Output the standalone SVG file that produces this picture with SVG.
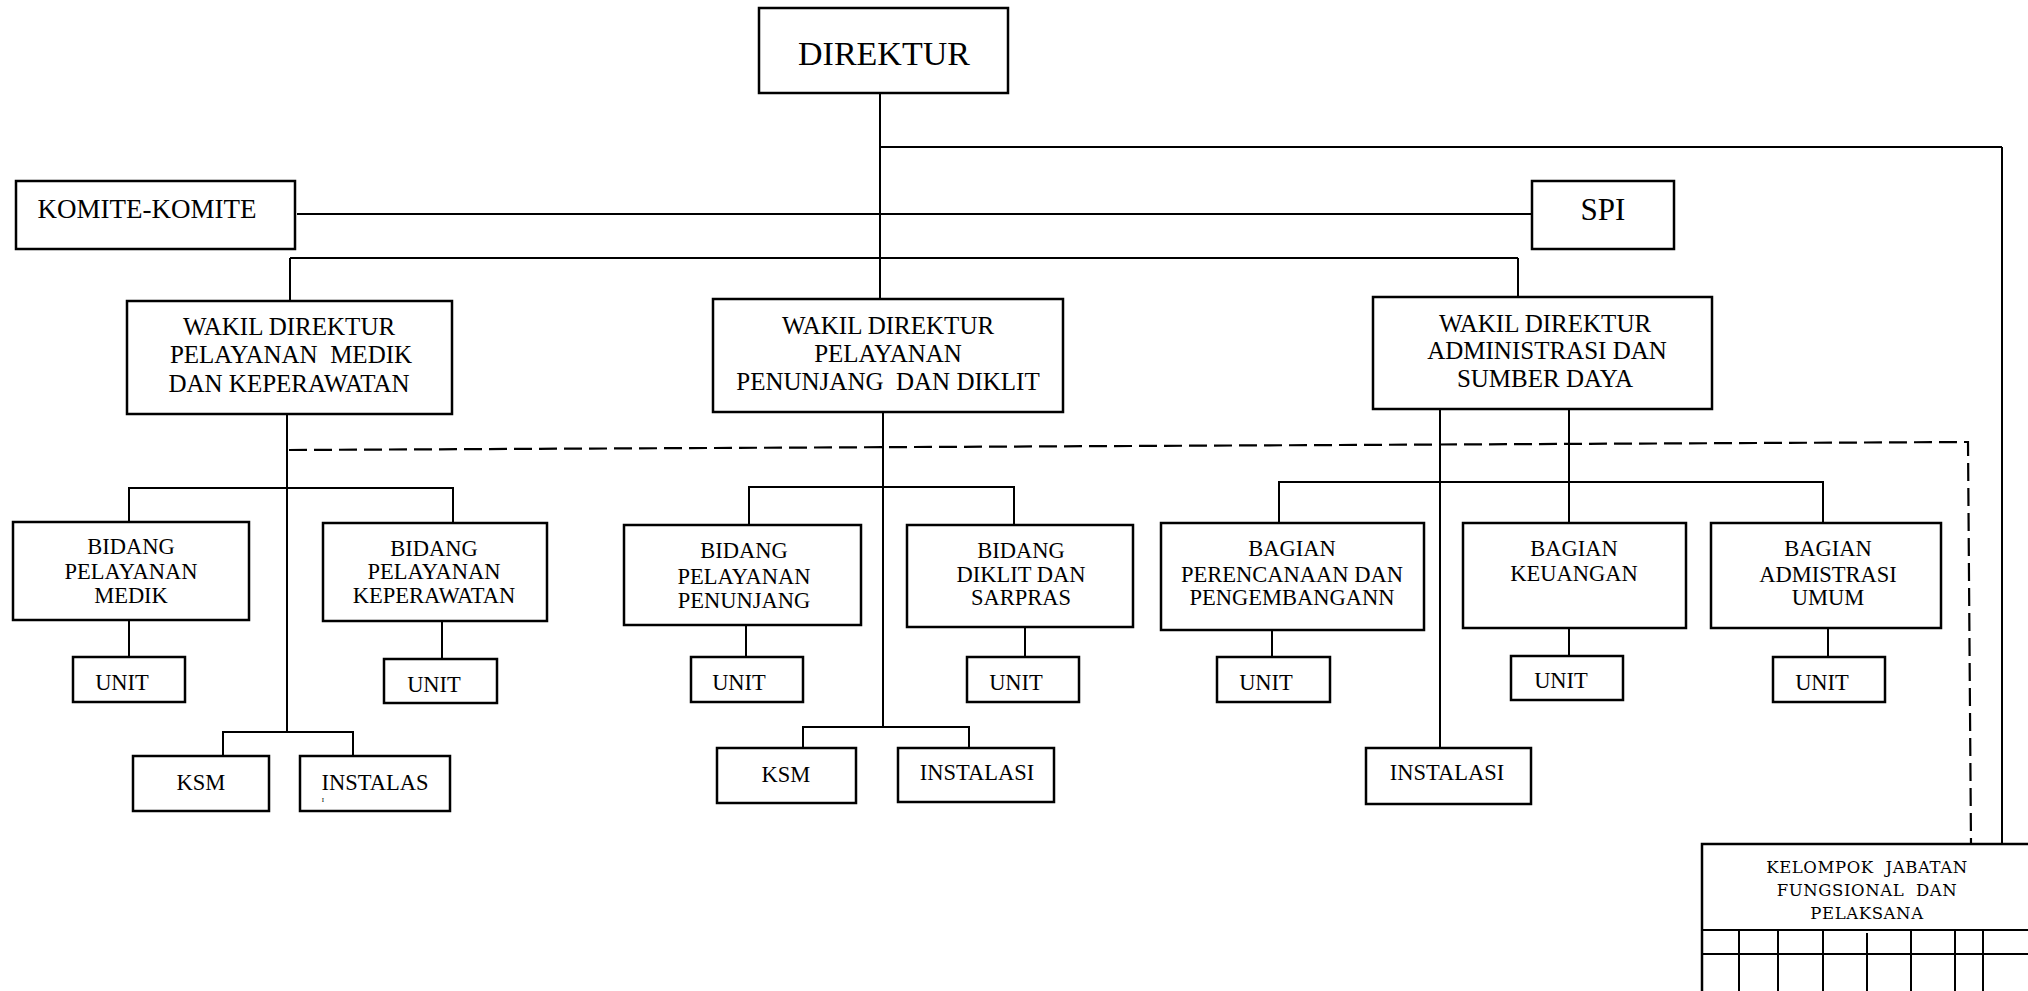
<svg xmlns="http://www.w3.org/2000/svg" width="2028" height="991" viewBox="0 0 2028 991">
<style>
.b{fill:#fff;stroke:#000;stroke-width:2.5}
.l{stroke:#000;stroke-width:2;fill:none}
.d{stroke:#000;stroke-width:2.2;fill:none;stroke-dasharray:18 7}
text{font-family:"Liberation Serif","Times New Roman",serif;fill:#000;text-anchor:middle}
.t{font-size:22.5px}
.w{font-size:25px}
.k{font-size:16.5px;letter-spacing:0.6px;font-family:"DejaVu Serif","Liberation Serif",serif}
</style>
<rect width="2028" height="991" fill="#fff"/>
<g id="connectors">
<line class="l" x1="880" y1="93" x2="880" y2="299"/>
<line class="l" x1="880" y1="147" x2="2002" y2="147"/>
<line class="l" x1="2002" y1="147" x2="2002" y2="844"/>
<line class="l" x1="297" y1="214" x2="1532" y2="214"/>
<line class="l" x1="290" y1="258" x2="1518" y2="258"/>
<line class="l" x1="290" y1="258" x2="290" y2="301"/>
<line class="l" x1="1518" y1="258" x2="1518" y2="297"/>
<path class="d" d="M289 450 L1968 442 L1971 844"/>
<line class="l" x1="287" y1="414" x2="287" y2="732"/>
<path class="l" d="M129 522 V488 H453 V523"/>
<line class="l" x1="129" y1="620" x2="129" y2="657"/>
<line class="l" x1="442" y1="621" x2="442" y2="659"/>
<path class="l" d="M223 757 V732 H353 V757"/>
<line class="l" x1="883" y1="412" x2="883" y2="727"/>
<path class="l" d="M749 525 V487 H1014 V525"/>
<line class="l" x1="746" y1="625" x2="746" y2="657"/>
<line class="l" x1="1025" y1="627" x2="1025" y2="657"/>
<path class="l" d="M803 748 V727 H969 V748"/>
<line class="l" x1="1440" y1="409" x2="1440" y2="748"/>
<line class="l" x1="1569" y1="409" x2="1569" y2="523"/>
<path class="l" d="M1279 523 V482 H1823 V523"/>
<line class="l" x1="1272" y1="630" x2="1272" y2="657"/>
<line class="l" x1="1569" y1="628" x2="1569" y2="656"/>
<line class="l" x1="1828" y1="628" x2="1828" y2="657"/>
</g>
<g id="direktur"><rect class="b" x="759" y="8" width="249" height="85"/><text x="884" y="65" style="font-size:34px">DIREKTUR</text></g>
<g id="komite"><rect class="b" x="16" y="181" width="279" height="68"/><text x="147" y="218" style="font-size:27px">KOMITE-KOMITE</text></g>
<g id="spi"><rect class="b" x="1532" y="181" width="142" height="68"/><text x="1603" y="220" style="font-size:31px">SPI</text></g>
<g id="wadir1"><rect class="b" x="127" y="301" width="325" height="113"/>
<text class="w" x="289" y="335">WAKIL DIREKTUR</text><text class="w" x="291" y="363" xml:space="preserve">PELAYANAN  MEDIK</text><text class="w" x="289" y="392">DAN KEPERAWATAN</text></g>
<g id="wadir2"><rect class="b" x="713" y="299" width="350" height="113"/>
<text class="w" x="888" y="334">WAKIL DIREKTUR</text><text class="w" x="888" y="362">PELAYANAN</text><text class="w" x="888" y="390" xml:space="preserve">PENUNJANG  DAN DIKLIT</text></g>
<g id="wadir3"><rect class="b" x="1373" y="297" width="339" height="112"/>
<text class="w" x="1545" y="332">WAKIL DIREKTUR</text><text class="w" x="1547" y="359">ADMINISTRASI DAN</text><text class="w" x="1545" y="387">SUMBER DAYA</text></g>
<g id="bid-medik"><rect class="b" x="13" y="522" width="236" height="98"/>
<text class="t" x="131" y="554">BIDANG</text><text class="t" x="131" y="579">PELAYANAN</text><text class="t" x="131" y="603">MEDIK</text></g>
<g id="bid-kep"><rect class="b" x="323" y="523" width="224" height="98"/>
<text class="t" x="434" y="556">BIDANG</text><text class="t" x="434" y="579">PELAYANAN</text><text class="t" x="434" y="603">KEPERAWATAN</text></g>
<g id="bid-pen"><rect class="b" x="624" y="525" width="237" height="100"/>
<text class="t" x="744" y="558">BIDANG</text><text class="t" x="744" y="584">PELAYANAN</text><text class="t" x="744" y="608">PENUNJANG</text></g>
<g id="bid-diklit"><rect class="b" x="907" y="525" width="226" height="102"/>
<text class="t" x="1021" y="558">BIDANG</text><text class="t" x="1021" y="582">DIKLIT DAN</text><text class="t" x="1021" y="605">SARPRAS</text></g>
<g id="bag-ren"><rect class="b" x="1161" y="523" width="263" height="107"/>
<text class="t" x="1292" y="556">BAGIAN</text><text class="t" x="1292" y="582">PERENCANAAN DAN</text><text class="t" x="1292" y="605">PENGEMBANGANN</text></g>
<g id="bag-keu"><rect class="b" x="1463" y="523" width="223" height="105"/>
<text class="t" x="1574" y="556">BAGIAN</text><text class="t" x="1574" y="581">KEUANGAN</text></g>
<g id="bag-umum"><rect class="b" x="1711" y="523" width="230" height="105"/>
<text class="t" x="1828" y="556">BAGIAN</text><text class="t" x="1828" y="582">ADMISTRASI</text><text class="t" x="1828" y="605">UMUM</text></g>
<g id="unit1"><rect class="b" x="73" y="657" width="112" height="45"/><text class="t" x="122" y="690">UNIT</text></g>
<g id="unit2"><rect class="b" x="384" y="659" width="113" height="44"/><text class="t" x="434" y="692">UNIT</text></g>
<g id="unit3"><rect class="b" x="691" y="657" width="112" height="45"/><text class="t" x="739" y="690">UNIT</text></g>
<g id="unit4"><rect class="b" x="967" y="657" width="112" height="45"/><text class="t" x="1016" y="690">UNIT</text></g>
<g id="unit5"><rect class="b" x="1217" y="657" width="113" height="45"/><text class="t" x="1266" y="690">UNIT</text></g>
<g id="unit6"><rect class="b" x="1511" y="656" width="112" height="44"/><text class="t" x="1561" y="688">UNIT</text></g>
<g id="unit7"><rect class="b" x="1773" y="657" width="112" height="45"/><text class="t" x="1822" y="690">UNIT</text></g>
<g id="ksm1"><rect class="b" x="133" y="756" width="136" height="55"/><text class="t" x="201" y="790">KSM</text></g>
<g id="inst1"><rect class="b" x="300" y="756" width="150" height="55"/><text class="t" x="375" y="790">INSTALAS</text><text x="323" y="802" style="font-size:7px">I</text></g>
<g id="ksm2"><rect class="b" x="717" y="748" width="139" height="55"/><text class="t" x="786" y="782">KSM</text></g>
<g id="inst2"><rect class="b" x="898" y="748" width="156" height="54"/><text class="t" x="977" y="780">INSTALASI</text></g>
<g id="inst3"><rect class="b" x="1366" y="748" width="165" height="56"/><text class="t" x="1447" y="780">INSTALASI</text></g>
<g id="kelompok">
<rect class="b" x="1702" y="844" width="340" height="160"/>
<text class="k" x="1867" y="873" xml:space="preserve">KELOMPOK  JABATAN</text>
<text class="k" x="1867" y="896" xml:space="preserve">FUNGSIONAL  DAN</text>
<text class="k" x="1867" y="919">PELAKSANA</text>
<line class="l" x1="1702" y1="930" x2="2028" y2="930"/>
<line class="l" x1="1702" y1="954" x2="2028" y2="954"/>
<path class="l" d="M1739 930V991M1778 930V991M1823 930V991M1867 933V991M1911 930V991M1955 930V991M1983 930V991"/>
</g>
</svg>
